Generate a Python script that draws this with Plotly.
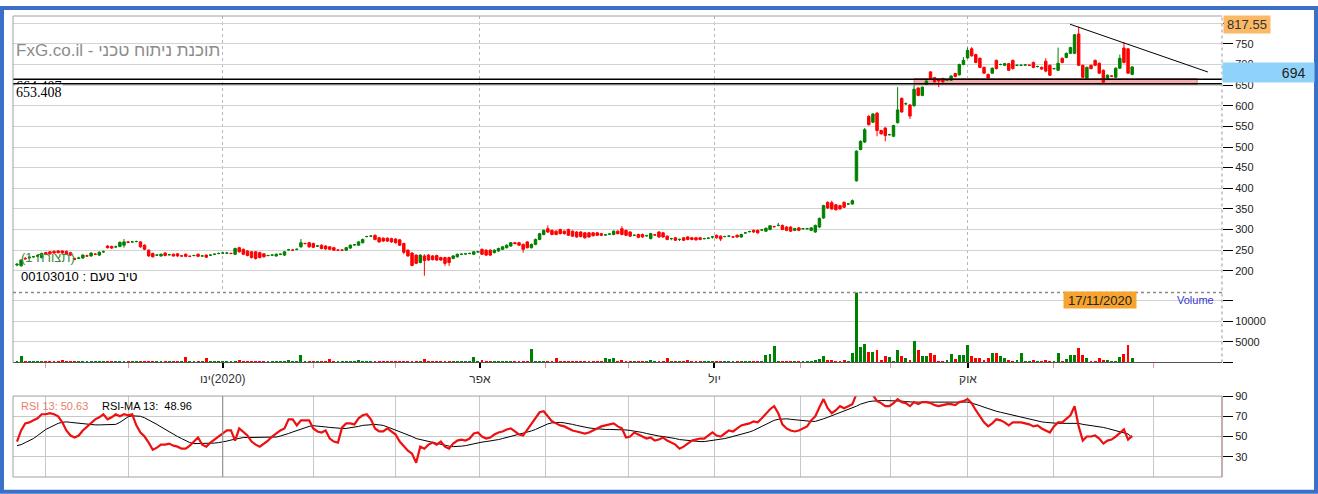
import plotly.graph_objects as go

# ---------------- data ----------------
open_ = [
    214,212,230,231,234,235,232,244,246,247,
    248,248,247,244,229,230,231,236,236,240,
    238,246,260,259,258,259,262,270,270,271,
    270,262,250,242,238,236,243,239,240,241,
    236,240,235,237,240,236,238,238,240,242,
    243,243,242,240,256,252,248,246,246,244,
    241,237,238,236,240,238,251,250,252,258,
    266,268,266,260,262,260,258,256,250,250,
    250,255,263,262,268,283,284,286,280,279,
    279,278,277,275,266,250,243,238,220,236,
    238,236,237,232,232,232,230,234,240,241,
    242,240,246,252,250,250,244,248,252,256,
    260,268,268,264,270,256,264,276,288,302,
    298,296,300,296,300,296,294,294,292,292,
    292,292,290,287,289,288,296,302,298,294,
    286,288,288,285,278,287,294,292,284,278,
    280,276,280,282,280,280,280,278,279,282,
    286,284,283,284,282,286,282,292,295,298,
    298,299,296,300,307,310,310,306,306,298,
    304,302,302,298,294,306,328,366,365,360,
    358,366,362,362,418,494,512,574,560,582,
    540,546,530,526,559,618,605,602,600,643,
    625,652,682,668,664,666,662,662,678,675,
    700,716,738,724,715,693,676,679,710,700,
    698,702,710,698,698,699,698,705,695,693,
    708,698,690,686,715,717,727,727,774,698,
    667,698,710,703,686,664,672,669,691,740,
    738,676,
]
close = [
    216,226,229,233,234,237,242,240,241,243,
    244,243,241,238,228,231,238,236,243,240,
    245,246,256,255,258,269,270,269,270,271,
    258,252,236,234,238,240,237,239,236,236,
    236,235,235,237,235,236,233,238,240,242,
    243,243,242,254,246,240,237,232,230,232,
    234,237,238,240,240,246,251,250,252,268,
    266,258,257,260,254,253,252,250,250,250,
    256,262,263,270,276,283,284,276,270,272,
    272,270,268,262,245,236,213,218,238,225,
    226,227,226,226,218,220,236,240,240,241,
    242,246,246,240,238,238,250,254,258,262,
    268,266,262,252,256,264,276,290,298,294,
    288,288,290,290,286,284,282,283,280,282,
    285,286,286,287,289,296,290,288,286,284,
    286,281,282,285,290,287,282,282,276,278,
    274,276,274,276,276,275,276,278,279,282,
    280,277,283,284,282,282,288,292,295,294,
    292,299,303,309,307,310,300,298,296,302,
    298,302,302,304,310,327,358,352,350,348,
    350,354,362,370,490,514,542,554,580,540,
    532,528,530,552,590,585,605,575,640,625,
    645,660,666,658,660,658,662,672,671,700,
    710,734,721,705,693,679,667,691,690,700,
    702,686,690,698,698,699,698,693,695,689,
    684,674,690,703,705,727,741,772,698,669,
    693,690,698,679,657,674,672,691,715,705,
    679,694,
]
high = [
    218,228,233,235,236,239,244,246,248,249,
    250,250,249,246,232,234,240,239,245,243,
    247,249,262,261,261,271,277,272,272,273,
    272,264,252,244,240,242,245,241,242,243,
    238,242,237,239,242,238,240,240,242,244,
    245,245,244,256,258,254,250,248,248,246,
    243,239,240,242,242,248,253,252,254,277,
    268,270,268,262,264,262,260,258,252,252,
    258,264,265,272,278,285,286,288,282,281,
    281,280,279,277,268,252,245,240,240,240,
    240,238,239,234,234,234,238,242,242,243,
    244,248,248,254,252,252,252,256,260,264,
    270,270,270,266,272,266,278,292,300,310,
    300,298,302,298,302,298,296,296,294,294,
    294,294,292,289,291,298,298,308,300,296,
    288,290,290,287,292,289,296,294,286,280,
    282,278,282,284,282,282,282,280,281,284,
    288,286,285,286,284,288,290,294,297,300,
    300,301,305,311,309,316,312,308,308,304,
    306,304,304,306,312,329,360,368,370,362,
    360,368,364,373,492,516,546,578,582,585,
    542,548,532,554,645,620,608,604,650,645,
    647,662,684,670,666,668,664,674,680,702,
    718,741,742,726,717,695,678,693,712,702,
    704,704,712,700,700,701,700,707,697,695,
    715,700,692,741,717,729,743,774,792,700,
    695,700,712,705,688,676,674,693,724,754,
    740,696,
]
low = [
    211,210,227,229,232,233,230,238,239,241,
    242,241,239,236,226,229,229,234,234,238,
    236,244,254,253,256,257,256,267,268,269,
    256,250,234,232,236,234,235,237,234,234,
    234,233,233,235,233,234,231,236,238,240,
    241,241,240,238,244,238,235,230,227,230,
    232,235,236,234,238,236,249,248,250,256,
    264,256,255,258,252,251,250,248,248,248,
    248,253,261,260,266,281,282,274,268,270,
    270,268,266,260,240,234,211,216,218,188,
    224,225,224,224,212,212,228,232,238,239,
    240,238,244,238,236,236,242,246,250,254,
    258,264,260,244,254,254,262,274,286,292,
    286,286,288,288,284,282,280,281,278,280,
    283,284,284,285,287,286,288,286,284,282,
    284,279,280,283,276,285,280,280,274,274,
    272,272,272,274,274,273,274,276,277,278,
    278,272,281,282,280,280,280,290,293,292,
    290,297,294,298,305,308,298,296,294,296,
    296,300,300,296,292,304,326,350,348,346,
    348,352,360,360,416,492,510,552,558,526,
    530,514,528,524,557,583,602,568,598,623,
    623,650,664,656,645,656,660,660,669,673,
    698,714,719,703,691,677,665,677,688,698,
    696,684,688,696,696,697,696,691,693,687,
    681,672,688,684,703,715,725,725,696,667,
    665,688,696,677,653,662,670,667,689,703,
    677,674,
]
volume = [
    300,1400,200,250,200,300,200,250,300,200,
    250,400,200,300,250,200,300,200,250,300,
    200,250,300,200,250,300,350,200,250,200,
    300,250,300,200,300,250,200,300,250,200,
    250,1200,300,200,250,300,900,250,200,300,
    250,200,300,250,400,300,250,300,200,250,
    300,200,250,300,200,250,400,300,250,1700,
    300,250,300,250,200,300,700,250,200,300,
    250,300,200,400,250,300,200,250,300,350,
    250,300,200,250,300,250,300,200,350,700,
    300,250,200,300,250,200,300,250,200,300,
    250,1200,300,400,250,300,200,250,300,250,
    300,250,200,300,250,3100,300,250,300,200,
    250,900,300,250,200,300,250,300,200,250,
    300,250,200,900,800,1000,300,600,250,300,
    250,300,200,250,500,300,250,200,900,300,
    250,300,200,400,250,300,200,250,300,200,
    250,300,200,250,300,300,250,200,300,250,
    300,250,1700,2000,4000,300,250,300,200,250,
    300,250,200,300,500,800,1400,500,500,300,
    250,400,300,2100,18000,3700,4400,2500,2400,3000,
    400,1500,1200,300,2800,1500,1000,400,5200,2900,
    1400,1500,2200,1700,300,300,600,2000,800,1700,
    1700,4200,1400,900,900,400,1000,2300,2200,1400,
    1000,400,300,600,2200,300,200,600,300,200,
    600,300,200,2200,300,700,1700,1600,3400,1700,
    900,300,300,1000,600,400,300,200,1200,2000,
    4100,1000,
]
rsi = [
    45,56,63,64,66,68,72,72,73,72,
    70,64,56,51,49,51,56,60,64,67,
    69,72,67,69,72,70,72,71,72,61,
    54,50,44,37,39,42,42,43,41,40,
    38,38,41,45,49,42,40,44,47,50,
    53,56,56,46,58,54,51,45,42,40,
    43,46,50,53,56,58,67,67,61,66,
    66,66,58,55,54,56,48,45,44,59,
    63,63,62,68,71,72,67,58,55,55,
    58,55,52,45,40,36,33,24,40,38,
    42,44,42,45,40,38,43,46,47,46,
    48,53,54,50,48,49,52,54,55,57,
    58,55,52,51,57,62,68,74,75,70,
    65,63,61,60,58,56,55,54,53,54,
    56,58,60,61,62,63,60,58,49,50,
    54,52,50,48,49,46,47,49,46,44,
    42,38,40,43,46,47,48,48,51,54,
    51,50,53,56,55,58,61,62,63,65,
    64,68,73,77,80,73,62,58,56,55,
    56,58,60,66,70,79,87,78,73,76,
    80,78,80,82,92,94,95,92,91,85,
    83,80,80,83,87,84,83,80,84,82,
    84,84,83,81,80,81,82,82,81,84,
    85,87,83,76,70,64,60,63,67,66,
    64,61,64,64,64,63,62,60,61,58,
    56,54,60,64,64,68,71,80,60,46,
    50,50,51,48,43,46,47,50,54,57,
    47,50.63,
]
rsi_ma = [
    41,42,44,46,48,51,54,57,59,61,
    63,64,64.5,64,63.5,63,62.5,62,62,61.5,
    61.5,61.5,61.5,61.5,62,64,67,69.5,70.5,70.5,
    70,68.5,66.5,64,62,59.5,57,55,52.5,50,
    48,46,44,43,43,43,43,43,43.5,44,
    44.5,45.5,46.5,47.5,48.5,49,49,49,49,49,
    49,49,49,49.5,50.5,51.5,53,54.5,56,57.5,
    59,60,60.7,60.5,60,59.5,59,58.5,58,58,
    58,58.5,59,60,61,61.5,62,62,61.5,61,
    59.5,58,56.5,55,53.5,52,50,48,47,46,
    45,44,43,42,41,40.5,40,40,40.5,41,
    42,43,44,44.5,45,45.5,46,47,48,49,
    50,51,52,53,54,55.5,57,59,61,62.5,
    63.5,64,64,63.5,63,62,61,60,59,58.5,
    58,57.5,57,57,57,57,57,57,56.5,56,
    55.5,55,54,53,52,51,50.5,50,49.5,49,
    48,47,46.5,46,45.5,45,45,45,45.5,46,
    46.5,47,48,49,50,51,52,53,54.5,56,
    58,60,62,64,66,67,67.5,67.5,67,66.5,
    66,65.5,65,65,65,66,67.5,69,70.5,72,
    73.5,75,76.5,78,80,82,83.5,84.5,85,85.5,
    85.5,85.5,85.5,85.5,85.5,85,84.5,84,84,84,
    84,84,84,83.5,83.5,83.5,83.5,83.5,83.5,83.5,
    84,84,83,82,80.5,79,77.5,76,75,74,
    73,72,71,70,69,68,67,66,65,64.5,
    64,63.5,63,63,63,63,63,63.5,63,62,
    61.5,61,60.5,60,59,58,57,56,55,54,
    52.5,48.96,
]

# month starts (bar index) and labels
month_ticks = [7, 27, 50, 72, 92, 112.5, 128.5, 148.5, 169.5, 190.3, 212.2, 231.1, 252, 276.1]
major_ticks = [50, 112.5, 169.5, 231.1]
major_labels = ["\u200eינו\u200e(2020)", "אפר", "יול", "אוק"]
minor_ticks = [t for t in month_ticks if t not in major_ticks]

price_ticks = [200, 250, 300, 350, 400, 450, 500, 550, 600, 650, 700, 750, 800]
volume_ticks = [0, 5000, 10000, 15000]
rsi_ticks = [30, 50, 70, 90]

h_levels = [664.407, 653.408]
zone_low, zone_high = 652, 666
zone_start, zone_end = 218, 286.8
trend_x = [255.9, 289.4]
trend_y = [797.6, 681.8]
last_price = "694"
top_price = "817.55"
cursor_date = "17/11/2020"
rsi_last, rsi_ma_last = "50.63", "48.96"

for name, arr in [("open", open_), ("high", high), ("low", low), ("volume", volume), ("rsi", rsi), ("rsi_ma", rsi_ma)]:
    assert len(arr) == len(close), (name, len(arr), len(close))

N = len(close)
xs = list(range(N))

# ---------------- geometry helpers ----------------
W, H = 1318, 494
L, R, T, B = 13, 1222, 10, 477


def px(xp):
    return (xp - L) / (R - L)


def py(yp):
    return (B - yp) / (B - T)


GREEN = "#008000"
RED = "#ff0000"

fig = go.Figure()

fig.add_trace(go.Candlestick(
    x=xs, open=open_, high=high, low=low, close=close,
    increasing=dict(line=dict(color=GREEN, width=1), fillcolor=GREEN),
    decreasing=dict(line=dict(color=RED, width=1), fillcolor=RED),
    whiskerwidth=0, xaxis="x", yaxis="y", showlegend=False, hoverinfo="skip",
))
fig.add_trace(go.Scatter(
    x=trend_x, y=trend_y, mode="lines", line=dict(color="#000", width=1),
    xaxis="x", yaxis="y", showlegend=False, hoverinfo="skip",
))

vol_colors = [GREEN if c >= o else RED for o, c in zip(open_, close)]
fig.add_trace(go.Bar(
    x=xs, y=volume, marker=dict(color=vol_colors, line=dict(width=0)), width=0.7,
    xaxis="x2", yaxis="y2", showlegend=False, hoverinfo="skip",
))

fig.add_trace(go.Scatter(
    x=xs, y=rsi_ma, mode="lines", line=dict(color="#000", width=1),
    xaxis="x3", yaxis="y3", showlegend=False, hoverinfo="skip",
))
fig.add_trace(go.Scatter(
    x=xs, y=rsi, mode="lines", line=dict(color="#ee1010", width=2.2),
    xaxis="x3", yaxis="y3", showlegend=False, hoverinfo="skip",
))

x_range = [(L - 17) / 4.115, (R - 17) / 4.115]
tickfont = dict(family="Arial", size=11, color="#222")

fig.update_layout(
    width=W, height=H,
    margin=dict(l=L, r=W - R, t=T, b=H - B),
    paper_bgcolor="white", plot_bgcolor="white",
    font=dict(family="Arial", size=12, color="#222"),
    showlegend=False, bargap=0, boxgap=0.4, boxgroupgap=0.0,
    xaxis=dict(domain=[0, 1], anchor="y", range=x_range, showticklabels=False, ticks="",
               tickmode="array", tickvals=major_ticks, showgrid=True, gridcolor="#b8b8b8",
               griddash="dot", gridwidth=1, zeroline=False, showline=False,
               rangeslider=dict(visible=False)),
    xaxis2=dict(domain=[0, 1], anchor="y2", range=x_range, tickmode="array",
                tickvals=major_ticks, ticktext=major_labels, ticks="outside", ticklen=5,
                tickwidth=2, tickcolor="#000", tickfont=dict(family="Arial", size=12, color="#333"),
                showgrid=False, zeroline=False, showline=True, linecolor="#555", linewidth=1,
                minor=dict(tickvals=minor_ticks, ticks="outside", ticklen=5, tickcolor="#e49a9a",
                           tickwidth=1, showgrid=False)),
    xaxis3=dict(domain=[0, 1], anchor="y3", range=x_range, showticklabels=False, ticks="",
                tickmode="array", tickvals=month_ticks, showgrid=True, gridcolor="#c8c8c8",
                zeroline=False, showline=False),
    yaxis=dict(domain=[py(290), 1], anchor="x", side="right", range=[147.6, 817.55],
               tickmode="array", tickvals=price_ticks,
               ticktext=[str(v) if v < 800 else "" for v in price_ticks],
               ticks="outside", ticklen=10, tickcolor="#000", tickfont=tickfont,
               showgrid=True, gridcolor="#d2d2d2", zeroline=False, showline=False),
    yaxis2=dict(domain=[py(361), py(290)], anchor="x2", side="right", range=[0, 16900],
                tickmode="array", tickvals=volume_ticks,
                ticktext=["", "5000", "10000", ""], ticks="outside", ticklen=10,
                tickcolor="#000", tickfont=tickfont, showgrid=True, gridcolor="#d2d2d2",
                zeroline=False, showline=False),
    yaxis3=dict(domain=[0, py(395)], anchor="x3", side="right", range=[10, 90],
                tickmode="array", tickvals=rsi_ticks, ticks="outside", ticklen=10,
                tickcolor="#000", tickfont=tickfont, showgrid=True, gridcolor="#c8c8c8",
                zeroline=False, showline=False),
)

shapes = []
# support zone
shapes.append(dict(type="rect", xref="x", yref="y", x0=zone_start, x1=zone_end,
                   y0=zone_low, y1=zone_high, fillcolor="rgba(238,120,120,0.6)",
                   line=dict(color="rgba(210,90,90,0.7)", width=1), layer="below"))
# horizontal levels
for lv in h_levels:
    shapes.append(dict(type="line", xref="paper", yref="y", x0=0, x1=1, y0=lv, y1=lv,
                       line=dict(color="#000", width=1.5)))
# panel frames
shapes.append(dict(type="line", xref="paper", yref="paper", x0=0, x1=1, y0=1, y1=1,
                   line=dict(color="#a0a0a0", width=1)))
shapes.append(dict(type="line", xref="paper", yref="paper", x0=0, x1=0, y0=py(361), y1=1,
                   line=dict(color="#a0a0a0", width=1)))
shapes.append(dict(type="line", xref="paper", yref="paper", x0=1, x1=1, y0=py(361), y1=1,
                   line=dict(color="#999", width=1, dash="dot")))
shapes.append(dict(type="line", xref="paper", yref="paper", x0=0, x1=1, y0=py(290), y1=py(290),
                   line=dict(color="#888", width=1.5, dash="dot")))
# RSI frame
shapes.append(dict(type="rect", xref="paper", yref="paper", x0=0, x1=1, y0=0, y1=py(395),
                   line=dict(color="#a0a0a0", width=1)))
shapes.append(dict(type="line", xref="paper", yref="paper", x0=1, x1=1, y0=0, y1=py(395),
                   line=dict(color="#c08a8a", width=1)))
shapes.append(dict(type="line", xref="x3", yref="paper", x0=major_ticks[0], x1=major_ticks[0],
                   y0=0, y1=py(395), line=dict(color="#8a8a8a", width=1)))
# outer blue frame
shapes.append(dict(type="rect", xref="paper", yref="paper", x0=px(2), x1=px(1316),
                   y0=py(492), y1=py(2), line=dict(color="#3a70c8", width=4)))
fig.update_layout(shapes=shapes)

ann = []
ann.append(dict(text="FxG.co.il - תוכנת ניתוח טכני", x=px(14), y=py(45), xanchor="left",
                yanchor="middle", font=dict(size=17, color="#8c8c8c")))
ann.append(dict(text="664.407", x=px(15), y=py(81.5), xanchor="left", yanchor="middle",
                font=dict(family="Liberation Serif", size=14, color="#000"), borderpad=0))
ann.append(dict(text="653.408", x=px(15), y=py(87.5), xanchor="left", yanchor="middle",
                font=dict(family="Liberation Serif", size=14, color="#000"), bgcolor="white",
                borderpad=0))
ann.append(dict(text="(1 תצורה)", x=px(19), y=py(255), xanchor="left", yanchor="middle",
                font=dict(size=13, color="#3a8a3a")))
ann.append(dict(text="00103010 : טיב טעם", x=px(19), y=py(274), xanchor="left",
                yanchor="middle", font=dict(size=13, color="#000")))
ann.append(dict(text="RSI 13: " + rsi_last, x=px(19), y=py(405), xanchor="left",
                yanchor="middle", font=dict(size=11, color="#e8806a")))
ann.append(dict(text="RSI-MA 13:\u00a0 " + rsi_ma_last, x=px(100), y=py(405), xanchor="left",
                yanchor="middle", font=dict(size=11, color="#000")))
ann.append(dict(text=top_price, x=px(1223), y=py(19), xanchor="left", yanchor="middle",
                width=44, height=15, bgcolor="#fbb966", borderpad=1, align="center",
                font=dict(size=13, color="#333")))
ann.append(dict(text=last_price + "\u00a0\u00a0", x=px(1222), y=py(67.5), xanchor="left",
                yanchor="middle", width=89, height=17, bgcolor="#90d3fa", borderpad=1,
                align="right", font=dict(size=14, color="#222")))
ann.append(dict(text=cursor_date, x=px(1063), y=py(298), xanchor="left", yanchor="middle",
                width=70, height=14, bgcolor="#f7a42f", borderpad=1, align="center",
                font=dict(size=13, color="#222")))
ann.append(dict(text="Volume", x=px(1216), y=py(298), xanchor="right", yanchor="middle",
                font=dict(size=11, color="#3535d0")))
for a in ann:
    a.update(xref="paper", yref="paper", showarrow=False)
fig.update_layout(annotations=ann)

fig.write_html(
    "out.html",
    config={"displayModeBar": False},
    post_script="document.body.style.margin='0';document.body.style.overflow='hidden';",
)
